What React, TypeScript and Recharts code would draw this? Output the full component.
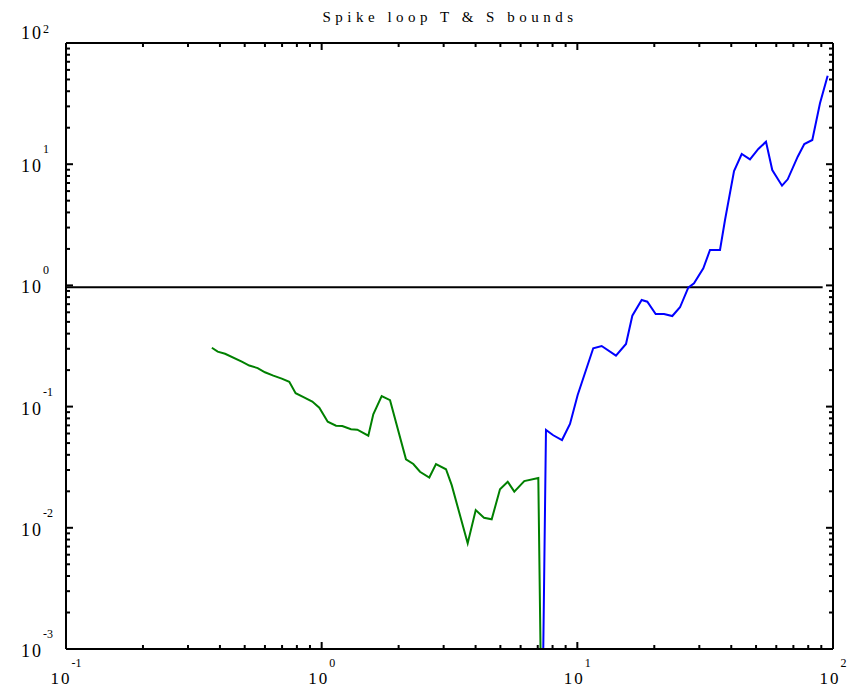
import { LineChart, Line, XAxis, YAxis, ReferenceLine } from "recharts";

// T bound (green) and S bound (blue) of the spike loop, both on log-log axes
const tX = [
  0.372, 0.392, 0.419, 0.487, 0.521, 0.562, 0.6, 0.647, 0.698, 0.747, 0.791, 0.853, 0.919, 0.979,
  1.056, 1.138, 1.204, 1.302, 1.379, 1.522, 1.592, 1.717, 1.851, 2.137, 2.283, 2.424, 2.636, 2.8,
  3.064, 3.226, 3.725, 4.005, 4.315, 4.624, 4.983, 5.341, 5.668, 6.201, 7.037, 7.28,
];
const tY = [
  0.306, 0.284, 0.273, 0.235, 0.218, 0.208, 0.192, 0.18, 0.17, 0.16, 0.129, 0.119, 0.11, 0.098,
  0.0751, 0.0696, 0.0692, 0.065, 0.0645, 0.0575, 0.0864, 0.122, 0.113, 0.0367, 0.0336, 0.029, 0.026,
  0.0336, 0.0304, 0.0225, 0.00745, 0.014, 0.0121, 0.01175, 0.0208, 0.024, 0.0199, 0.0243, 0.0258,
  0.0001,
];

const sX = [
  7.26, 7.54, 8.05, 8.71, 9.36, 10.03, 11.54, 12.45, 14.16, 15.5, 16.41, 17.85, 18.78, 20.25, 21.83,
  23.52, 25.21, 27.16, 28.6, 31.1, 33.03, 36.14, 37.81, 41.01, 43.95, 47.35, 51.04, 54.69, 57.87,
  63.18, 66.5, 72.77, 77.23, 82.99, 88.94, 95.3,
];
const sY = [
  0.0001, 0.0641, 0.058, 0.053, 0.0719, 0.1246, 0.303, 0.316, 0.263, 0.3285, 0.562, 0.758, 0.734,
  0.581, 0.581, 0.559, 0.66, 0.957, 1.041, 1.384, 1.959, 1.959, 3.464, 8.788, 12.14, 10.97, 13.35,
  15.33, 8.955, 6.646, 7.507, 11.53, 14.68, 15.84, 31.8, 53.73,
];

// unity reference
const unityX = [0.1, 91.1];
const unityY = [0.964, 0.964];

const xDecades = [0.1, 1, 10];
const yDecades = [0.001, 0.01, 0.1, 1, 10];
const steps = [1, 2, 3, 4, 5, 6, 7, 8, 9];
const xTicks = [...xDecades.flatMap((d) => steps.map((s) => s * d)), 100];
const yTicks = [...yDecades.flatMap((d) => steps.map((s) => s * d)), 100];

const toPoints = (xs: number[], ys: number[]) => xs.map((x, i) => ({ x, y: ys[i] }));
const tData = toPoints(tX, tY);
const sData = toPoints(sX, sY);
const unityData = toPoints(unityX, unityY);

const W = 856;
const H = 688;
const PLOT = { left: 66, top: 43, right: 833, bottom: 649 };

const isDecade = (v: number) => Math.abs(Math.log10(v) - Math.round(Math.log10(v))) < 1e-9;
const expOf = (v: number) => Math.round(Math.log10(v));

function XTick({ x, y, payload }: any) {
  const v = payload.value;
  const major = isDecade(v);
  const len = major ? 7 : 4;
  return (
    <g>
      <line x1={x} x2={x} y1={y} y2={y - len} stroke="#000" strokeWidth={2} />
      <line x1={x} x2={x} y1={PLOT.top} y2={PLOT.top + len} stroke="#000" strokeWidth={2} />
      {major && (
        <text x={x} y={y + 35} textAnchor="middle" fontSize={17} letterSpacing={2} fill="#000">
          10
          <tspan dy={-17} fontSize={12} letterSpacing={0}>
            {expOf(v)}
          </tspan>
        </text>
      )}
    </g>
  );
}

function YTick({ x, y, payload }: any) {
  const v = payload.value;
  const major = isDecade(v);
  const len = major ? 7 : 4;
  const top = major && expOf(v) === 2;
  return (
    <g>
      <line x1={x} x2={x + len} y1={y} y2={y} stroke="#000" strokeWidth={2} />
      <line x1={PLOT.right} x2={PLOT.right - len} y1={y} y2={y} stroke="#000" strokeWidth={2} />
      {major && (
        <text x={21} y={top ? y - 4 : y + 8} fontSize={18} letterSpacing={2} fill="#000">
          10
          <tspan dy={top ? -6 : -19} fontSize={12} letterSpacing={0}>
            {expOf(v)}
          </tspan>
        </text>
      )}
    </g>
  );
}

export default function App() {
  return (
    <div
      style={{
        position: "absolute",
        left: 0,
        top: 0,
        width: W,
        height: H,
        background: "#fff",
        fontFamily: "'Liberation Serif', 'Times New Roman', serif",
      }}
    >
      <svg width={W} height={40} style={{ position: "absolute", left: 0, top: 0 }}>
        <text x={450} y={22} textAnchor="middle" fontSize={15} letterSpacing={4.5} fill="#000">
          Spike loop T &amp; S bounds
        </text>
      </svg>
      <LineChart
        width={W}
        height={H}
        margin={{ top: PLOT.top, right: W - PLOT.right, left: 0, bottom: 0 }}
      >
        <XAxis
          dataKey="x"
          type="number"
          scale="log"
          domain={[0.1, 100]}
          allowDataOverflow
          ticks={xTicks}
          interval={0}
          height={H - PLOT.bottom}
          tickLine={false}
          tickSize={0}
          tickMargin={0}
          tick={<XTick />}
          axisLine={{ stroke: "#000", strokeWidth: 2 }}
        />
        <YAxis
          type="number"
          scale="log"
          domain={[0.001, 100]}
          allowDataOverflow
          ticks={yTicks}
          interval={0}
          width={PLOT.left}
          tickLine={false}
          tickSize={0}
          tickMargin={0}
          tick={<YTick />}
          axisLine={{ stroke: "#000", strokeWidth: 2 }}
        />
        <ReferenceLine y={100} stroke="#000" strokeWidth={2} />
        <ReferenceLine x={100} stroke="#000" strokeWidth={2} />
        <Line
          data={unityData}
          dataKey="y"
          stroke="#000"
          strokeWidth={2}
          dot={false}
          isAnimationActive={false}
        />
        <Line
          data={tData}
          dataKey="y"
          stroke="#008000"
          strokeWidth={2}
          dot={false}
          isAnimationActive={false}
        />
        <Line
          data={sData}
          dataKey="y"
          stroke="#0000ff"
          strokeWidth={2}
          dot={false}
          isAnimationActive={false}
        />
      </LineChart>
    </div>
  );
}
